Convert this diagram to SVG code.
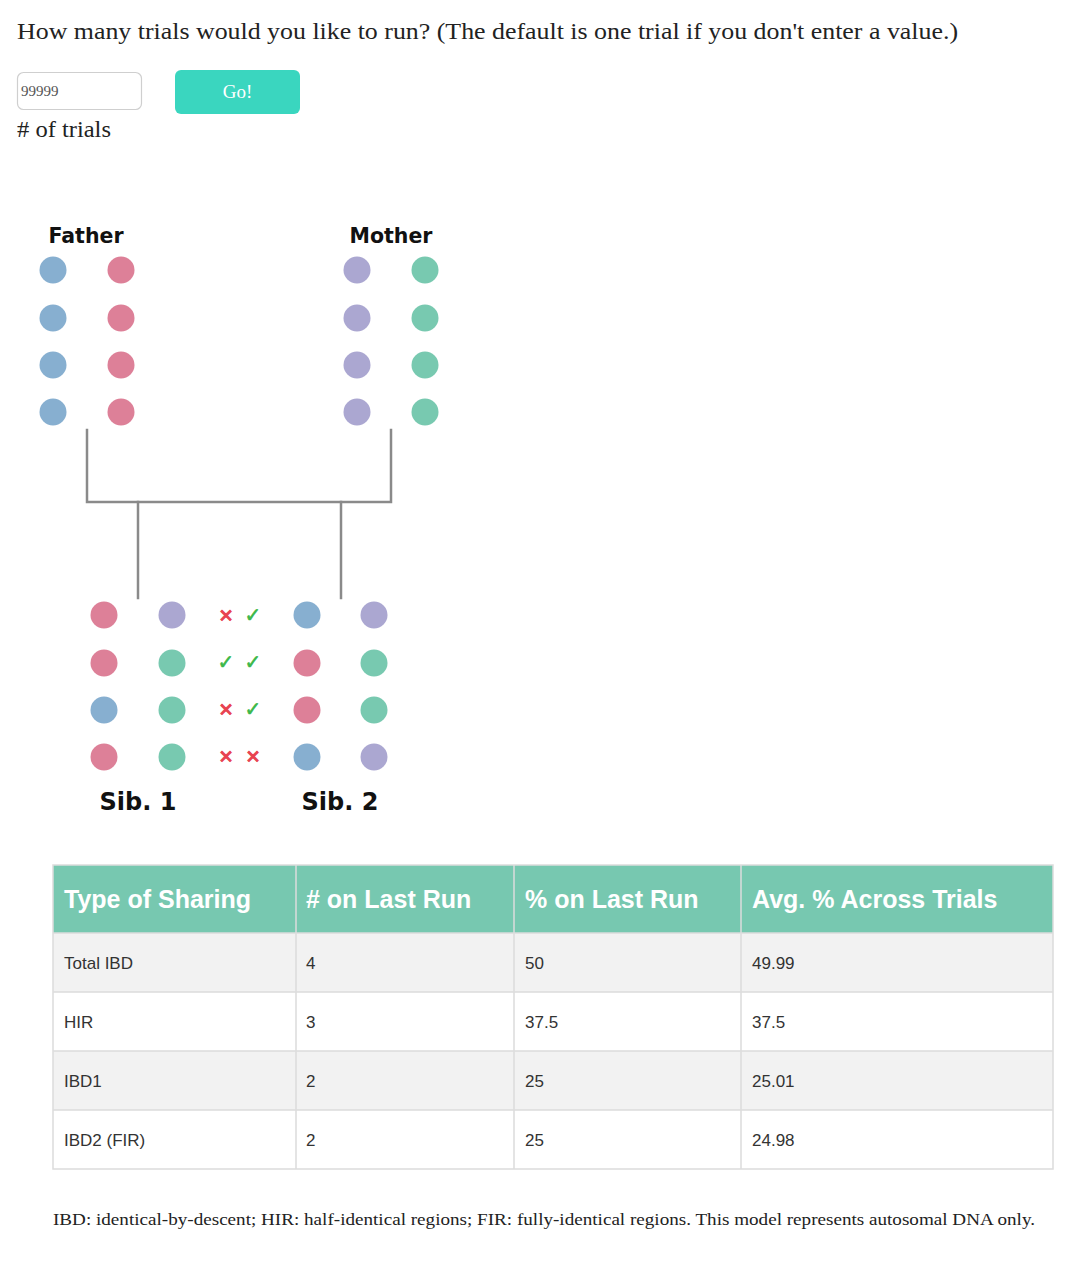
<svg xmlns="http://www.w3.org/2000/svg" width="1080" height="1263" viewBox="0 0 1080 1263">
<style>
.serif{font-family:"Liberation Serif","DejaVu Serif",serif;fill:#222}
.lbl{font-family:"DejaVu Sans",Verdana,sans-serif;font-weight:bold;fill:#111;text-anchor:middle}
.b{fill:#87afd0}.p{fill:#dd8098}.u{fill:#aba7d1}.g{fill:#78c9b0}
.conn{stroke:#8a8a8a;stroke-width:2.5;fill:none;stroke-linecap:square}
.x{font-family:"DejaVu Sans",sans-serif;font-size:18px;font-weight:bold;fill:#e8424e;stroke:#e8424e;stroke-width:0.9;text-anchor:middle}
.c{font-family:"DejaVu Sans",sans-serif;font-size:20px;font-weight:bold;fill:#3cb84a;stroke:#3cb84a;stroke-width:0.6;text-anchor:middle}
.th{font-family:"Liberation Sans",Arial,sans-serif;font-size:25px;font-weight:bold;fill:#fff}
.td{font-family:"Liberation Sans",Arial,sans-serif;font-size:17px;fill:#333}
.grid{stroke:#dcdcdc;stroke-width:1.5;fill:none}
</style>
<rect width="1080" height="1263" fill="#fff"/>
<g id="form">
<text class="serif" x="17" y="39" font-size="23" textLength="941" lengthAdjust="spacingAndGlyphs">How many trials would you like to run? (The default is one trial if you don't enter a value.)</text>
<rect x="17.5" y="72.5" width="124" height="37" rx="6" fill="#fff" stroke="#cfcfcf" stroke-width="1.2"/>
<text x="21" y="96" font-family="Liberation Serif,serif" font-size="15" fill="#555">99999</text>
<rect x="175" y="70" width="125" height="44" rx="6" fill="#3ad6bf"/>
<text x="237.5" y="98" font-family="Liberation Serif,serif" font-size="19" fill="#fff" text-anchor="middle">Go!</text>
<text class="serif" x="17" y="137" font-size="23" textLength="94" lengthAdjust="spacingAndGlyphs">#<tspan> of trials</tspan></text>
</g>
<g id="father">
<text class="lbl" x="86" y="243" font-size="20.5">Father</text>
<circle class="b" cx="53" cy="270" r="13.5"/><circle class="p" cx="121" cy="270" r="13.5"/>
<circle class="b" cx="53" cy="318" r="13.5"/><circle class="p" cx="121" cy="318" r="13.5"/>
<circle class="b" cx="53" cy="365" r="13.5"/><circle class="p" cx="121" cy="365" r="13.5"/>
<circle class="b" cx="53" cy="412" r="13.5"/><circle class="p" cx="121" cy="412" r="13.5"/>
</g>
<g id="mother">
<text class="lbl" x="391" y="243" font-size="20.5">Mother</text>
<circle class="u" cx="357" cy="270" r="13.5"/><circle class="g" cx="425" cy="270" r="13.5"/>
<circle class="u" cx="357" cy="318" r="13.5"/><circle class="g" cx="425" cy="318" r="13.5"/>
<circle class="u" cx="357" cy="365" r="13.5"/><circle class="g" cx="425" cy="365" r="13.5"/>
<circle class="u" cx="357" cy="412" r="13.5"/><circle class="g" cx="425" cy="412" r="13.5"/>
</g>
<g id="connectors">
<path class="conn" d="M87 430 V502 H391 V430"/>
<path class="conn" d="M138 502 V598"/>
<path class="conn" d="M341 502 V598"/>
</g>
<g id="sib1">
<circle class="p" cx="104" cy="615" r="13.5"/><circle class="u" cx="172" cy="615" r="13.5"/>
<circle class="p" cx="104" cy="663" r="13.5"/><circle class="g" cx="172" cy="663" r="13.5"/>
<circle class="b" cx="104" cy="710" r="13.5"/><circle class="g" cx="172" cy="710" r="13.5"/>
<circle class="p" cx="104" cy="757" r="13.5"/><circle class="g" cx="172" cy="757" r="13.5"/>
<text class="lbl" x="138" y="810" font-size="24">Sib. 1</text>
</g>
<g id="marks">
<text class="x" x="226" y="622">✕</text><text class="c" x="253" y="622">✓</text>
<text class="c" x="226" y="669">✓</text><text class="c" x="253" y="669">✓</text>
<text class="x" x="226" y="716">✕</text><text class="c" x="253" y="716">✓</text>
<text class="x" x="226" y="763">✕</text><text class="x" x="253" y="763">✕</text>
</g>
<g id="sib2">
<circle class="b" cx="307" cy="615" r="13.5"/><circle class="u" cx="374" cy="615" r="13.5"/>
<circle class="p" cx="307" cy="663" r="13.5"/><circle class="g" cx="374" cy="663" r="13.5"/>
<circle class="p" cx="307" cy="710" r="13.5"/><circle class="g" cx="374" cy="710" r="13.5"/>
<circle class="b" cx="307" cy="757" r="13.5"/><circle class="u" cx="374" cy="757" r="13.5"/>
<text class="lbl" x="340" y="810" font-size="24">Sib. 2</text>
</g>
<g id="table">
<rect x="53" y="865" width="1000" height="68" fill="#77c8b0"/>
<rect x="53" y="933" width="1000" height="59" fill="#f2f2f2"/>
<rect x="53" y="992" width="1000" height="59" fill="#fff"/>
<rect x="53" y="1051" width="1000" height="59" fill="#f2f2f2"/>
<rect x="53" y="1110" width="1000" height="59" fill="#fff"/>
<path class="grid" d="M53 865 H1053 V1169 H53 Z M53 933 H1053 M53 992 H1053 M53 1051 H1053 M53 1110 H1053 M296 865 V1169 M514 865 V1169 M741 865 V1169"/>
<text class="th" x="64" y="908">Type of Sharing</text>
<text class="th" x="306" y="908">#<tspan> on Last Run</tspan></text>
<text class="th" x="525" y="908">% on Last Run</text>
<text class="th" x="752" y="908">Avg. % Across Trials</text>
<text class="td" x="64" y="969">Total IBD</text><text class="td" x="306" y="969">4</text><text class="td" x="525" y="969">50</text><text class="td" x="752" y="969">49.99</text>
<text class="td" x="64" y="1028">HIR</text><text class="td" x="306" y="1028">3</text><text class="td" x="525" y="1028">37.5</text><text class="td" x="752" y="1028">37.5</text>
<text class="td" x="64" y="1087">IBD1</text><text class="td" x="306" y="1087">2</text><text class="td" x="525" y="1087">25</text><text class="td" x="752" y="1087">25.01</text>
<text class="td" x="64" y="1146">IBD2 (FIR)</text><text class="td" x="306" y="1146">2</text><text class="td" x="525" y="1146">25</text><text class="td" x="752" y="1146">24.98</text>
</g>
<text class="serif" x="53" y="1225" font-size="17.5" textLength="982" lengthAdjust="spacingAndGlyphs">IBD: identical-by-descent; HIR: half-identical regions; FIR: fully-identical regions. This model represents autosomal DNA only.</text>
</svg>
